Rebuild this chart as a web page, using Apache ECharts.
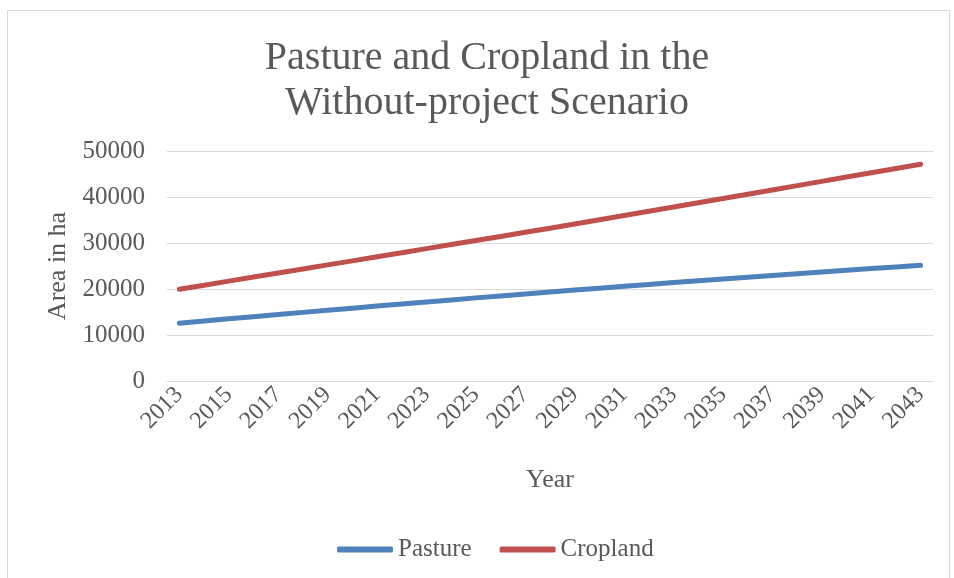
<!DOCTYPE html>
<html>
<head>
<meta charset="utf-8">
<script src="https://cdn.jsdelivr.net/npm/echarts@6/dist/echarts.min.js"></script>
<style>
  html, body { margin: 0; padding: 0; background: #fff; }
  #main { width: 954px; height: 578px; }
</style>
</head>
<body>
<div id="main"></div>
<script>
// years on the x axis
const years = [];
for (let y = 2013; y <= 2043; y++) years.push(String(y));

// area in ha
const pasture = [12540, 13030, 13510, 13980, 14460, 14920, 15390, 15840, 16300, 16750,
  17190, 17630, 18070, 18500, 18930, 19350, 19770, 20180, 20590, 21000,
  21400, 21790, 22180, 22570, 22950, 23330, 23700, 24070, 24440, 24800, 25150];
const cropland = [19950, 20830, 21710, 22590, 23470, 24360, 25240, 26120, 27010, 27890,
  28780, 29660, 30550, 31430, 32320, 33200, 34120, 35040, 35970, 36890,
  37820, 38750, 39680, 40610, 41540, 42470, 43400, 44330, 45260, 46190, 47110];

const titleText = 'Pasture and Cropland in the\nWithout-project Scenario';
const font = '"Liberation Serif", "Times New Roman", serif';
const grey = '#595959';

const myChart = echarts.init(document.getElementById('main'));

const option = {
  animation: false,
  backgroundColor: '#fff',
  graphic: [{
    type: 'rect',
    shape: { x: 7.5, y: 10.5, width: 942, height: 620 },
    style: { fill: 'none', stroke: '#d9d9d9', lineWidth: 1 },
    silent: true
  }],
  title: {
    text: titleText,
    left: 482,
    textAlign: 'center',
    top: 31,
    textStyle: {
      fontFamily: font,
      fontSize: 40,
      fontWeight: 'normal',
      color: grey,
      lineHeight: 45
    }
  },
  legend: {
    left: 332,
    top: 532,
    itemWidth: 56,
    itemHeight: 6,
    itemGap: 28,
    icon: 'roundRect',
    textStyle: { fontFamily: font, fontSize: 25, color: grey },
    data: ['Pasture', 'Cropland']
  },
  grid: { left: 167, right: 21, top: 151, bottom: 197, containLabel: false },
  xAxis: {
    type: 'category',
    data: years,
    boundaryGap: true,
    name: 'Year',
    nameLocation: 'middle',
    nameGap: 86,
    nameTextStyle: { fontFamily: font, fontSize: 26, color: grey },
    axisLine: { show: true, lineStyle: { color: '#d9d9d9', width: 1 } },
    axisTick: { show: false },
    axisLabel: {
      interval: 1,
      rotate: 45,
      margin: 10,
      fontFamily: font,
      fontSize: 24,
      color: grey
    }
  },
  yAxis: {
    type: 'value',
    min: 0,
    max: 50000,
    interval: 10000,
    name: 'Area in ha',
    nameLocation: 'middle',
    nameRotate: 90,
    nameGap: 92,
    nameTextStyle: { fontFamily: font, fontSize: 26, color: grey },
    axisLine: { show: false },
    axisTick: { show: false },
    axisLabel: {
      margin: 22,
      fontFamily: font,
      fontSize: 25,
      color: grey,
      formatter: function (v) { return String(v); }
    },
    splitLine: { show: true, lineStyle: { color: '#d9d9d9', width: 1 } }
  },
  series: [{
    name: 'Pasture',
    type: 'line',
    data: pasture,
    symbol: 'none',
    itemStyle: { color: '#4f81bd' },
    lineStyle: { width: 5, color: '#4f81bd', cap: 'round', join: 'round' }
  }, {
    name: 'Cropland',
    type: 'line',
    data: cropland,
    symbol: 'none',
    itemStyle: { color: '#c0504d' },
    lineStyle: { width: 5, color: '#c0504d', cap: 'round', join: 'round' }
  }]
};
myChart.setOption(option);
</script>
</body>
</html>
